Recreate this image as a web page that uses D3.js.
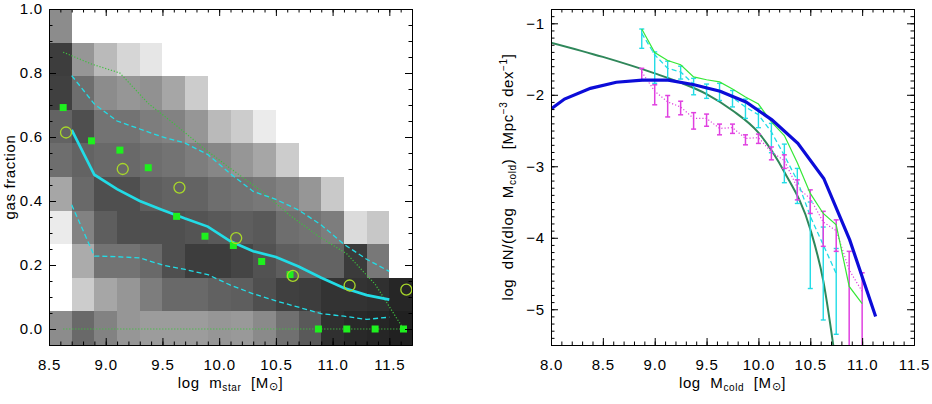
<!DOCTYPE html>
<html>
<head>
<meta charset="utf-8">
<script src="https://cdn.jsdelivr.net/npm/d3@7"></script>
<style>
    body { margin: 0; background: #fff; }
    svg { display: block; font-family: "Liberation Sans", Arial, sans-serif; }
</style>
</head>
<body>
<svg id="chart" width="932" height="404"></svg>
<script>
// ---- left panel: gas fraction vs stellar mass ----
const massBins = [8.5, 8.7, 8.9, 9.1, 9.3, 9.5, 9.7, 9.9, 10.1, 10.3, 10.5, 10.7, 10.9, 11.1, 11.3, 11.5, 11.7];
const fracBins = [-0.05, 0.055, 0.16, 0.265, 0.37, 0.475, 0.58, 0.685, 0.79, 0.895, 1.0];
// density of model galaxies per cell, bottom row first (0 = empty)
const fracDensity = [
    [0.45, 0.59, 0.49, 0.41, 0.39, 0.39, 0.39, 0.41, 0.40, 0.46, 0.56, 0.65, 0.81, 0.84, 0.85, 0.87],
    [0.00, 0.20, 0.35, 0.41, 0.51, 0.59, 0.59, 0.62, 0.63, 0.69, 0.75, 0.76, 0.80, 0.80, 0.81, 0.85],
    [0.00, 0.33, 0.55, 0.55, 0.59, 0.69, 0.76, 0.76, 0.73, 0.68, 0.63, 0.61, 0.61, 0.77, 0.53, 0.00],
    [0.08, 0.49, 0.63, 0.69, 0.69, 0.69, 0.67, 0.65, 0.63, 0.65, 0.57, 0.55, 0.51, 0.14, 0.22, 0.00],
    [0.35, 0.59, 0.69, 0.69, 0.63, 0.61, 0.61, 0.57, 0.55, 0.53, 0.49, 0.41, 0.21, 0.00, 0.00, 0.00],
    [0.57, 0.61, 0.59, 0.59, 0.57, 0.55, 0.51, 0.47, 0.41, 0.35, 0.20, 0.00, 0.00, 0.00, 0.00, 0.00],
    [0.61, 0.69, 0.55, 0.55, 0.51, 0.49, 0.41, 0.27, 0.20, 0.08, 0.00, 0.00, 0.00, 0.00, 0.00, 0.00],
    [0.75, 0.57, 0.45, 0.41, 0.43, 0.35, 0.20, 0.00, 0.00, 0.00, 0.00, 0.00, 0.00, 0.00, 0.00, 0.00],
    [0.76, 0.41, 0.27, 0.16, 0.10, 0.00, 0.00, 0.00, 0.00, 0.00, 0.00, 0.00, 0.00, 0.00, 0.00, 0.00],
    [0.45, 0.00, 0.00, 0.00, 0.00, 0.00, 0.00, 0.00, 0.00, 0.00, 0.00, 0.00, 0.00, 0.00, 0.00, 0.00]
];
const binMass = [8.7, 8.9, 9.1, 9.3, 9.5, 9.7, 9.9, 10.1, 10.3, 10.5, 10.7, 10.9, 11.1, 11.3, 11.5];
const medianFrac = [0.622, 0.482, 0.437, 0.400, 0.372, 0.345, 0.320, 0.274, 0.243, 0.225, 0.195, 0.160, 0.128, 0.106, 0.092];
const upperFrac = [0.792, 0.703, 0.650, 0.625, 0.600, 0.581, 0.545, 0.485, 0.430, 0.405, 0.372, 0.325, 0.265, 0.218, 0.180];
const lowerFrac = [0.388, 0.228, 0.226, 0.222, 0.200, 0.186, 0.170, 0.137, 0.110, 0.088, 0.068, 0.048, 0.040, 0.030, 0.037];

const obsMass = [8.625, 8.875, 9.125, 9.375, 9.625, 9.875, 10.125, 10.375, 10.625, 10.875, 11.125, 11.375, 11.625];
const obsFrac = [0.692, 0.588, 0.559, 0.504, 0.352, 0.290, 0.261, 0.211, 0.170, 0.0, 0.0, 0.0, 0.0];
const obsUpper = [0.865, 0.828, 0.800, 0.705, 0.635, 0.562, 0.495, 0.430, 0.355, 0.290, 0.235, 0.140, 0.0];
const obsLower = [0, 0, 0, 0, 0, 0, 0, 0, 0, 0, 0, 0, 0];
const circMass = [8.65, 9.15, 9.65, 10.15, 10.65, 11.15, 11.65];
const circFrac = [0.614, 0.500, 0.442, 0.284, 0.166, 0.136, 0.123];

// ---- right panel: cold gas mass function ----
const mfMass = [8.875, 9.0, 9.125, 9.25, 9.375, 9.5, 9.625, 9.75, 9.875, 10.0, 10.125, 10.25, 10.375, 10.5, 10.625, 10.75, 10.875, 11.0];
const greenPhi = [-1.08, -1.41, -1.52, -1.58, -1.75, -1.79, -1.82, -1.92, -2.03, -2.13, -2.38, -2.57, -2.95, -3.38, -3.66, -3.82, -4.68, -4.92];
const cyanPhi = [-1.14, -1.44, -1.63, -1.68, -1.85, -1.92, -1.93, -2.04, -2.17, -2.28, -2.52, -2.85, -3.20, -3.70, -4.10, -4.50];
const cyanHi = [-1.08, -1.40, -1.53, -1.60, -1.77, -1.85, -1.84, -1.94, -2.06, -2.19, -2.40, -2.69, -3.03, -3.50, -3.85, -4.15];
const cyanLo = [-1.35, -1.84, -1.80, -1.78, -2.00, -2.05, -2.08, -2.17, -2.33, -2.46, -2.81, -3.23, -3.52, -4.71, -5.15, -5.35];
const magPhi = [-1.68, -1.95, -2.10, -2.17, -2.33, -2.33, -2.47, -2.46, -2.61, -2.60, -2.80, -2.92, -3.30, -3.45, -3.78, -3.90, -4.45, -4.75];
const magHi = [-1.63, -1.86, -2.01, -2.09, -2.25, -2.27, -2.41, -2.41, -2.56, -2.55, -2.73, -2.84, -3.19, -3.33, -3.63, -3.75, -4.19, -4.49];
const magLo = [-1.80, -2.14, -2.31, -2.28, -2.48, -2.44, -2.56, -2.54, -2.70, -2.68, -2.91, -3.03, -3.47, -3.66, -4.12, -4.19, -5.60, -5.60];
const blueMass = [8.0, 8.13, 8.38, 8.63, 8.88, 9.13, 9.38, 9.63, 9.88, 10.13, 10.38, 10.63, 10.88, 11.13];
const bluePhi = [-2.20, -2.06, -1.91, -1.825, -1.795, -1.795, -1.86, -1.95, -2.10, -2.35, -2.68, -3.17, -4.03, -5.10];
const fitMass = [8.0, 8.5, 9.0, 9.25, 9.5, 9.75, 10.0, 10.25, 10.5, 10.625, 10.75];
const fitPhi = [-1.27, -1.47, -1.70, -1.83, -1.99, -2.22, -2.53, -3.08, -3.88, -4.60, -5.80];

const svg = d3.select('#chart');
const font = '"Liberation Sans", Arial, sans-serif';

const fracX = d3.scaleLinear().domain([8.5, 11.7]).range([49, 412]);
const fracY = d3.scaleLinear().domain([-0.05, 1.0]).range([345, 9]);
const mfX = d3.scaleLinear().domain([8.0, 11.5]).range([551, 914]);
const mfY = d3.scaleLinear().domain([-5.5, -0.8]).range([345, 9]);
const grey = d3.scaleLinear().domain([0, 1]).range(['#ffffff', '#000000']);

function clipFor(id, x, y) {
    svg.append('clipPath').attr('id', id).append('rect')
        .attr('x', x.range()[0]).attr('y', y.range()[1])
        .attr('width', x.range()[1] - x.range()[0])
        .attr('height', y.range()[0] - y.range()[1]);
    return svg.append('g').attr('clip-path', `url(#${id})`);
}

function frame(x, y, xMajor, xMinor, yMajor, yMinor, xFmt, yFmt) {
    const [left, right] = x.range();
    const [bottom, top] = y.range();
    const g = svg.append('g');
    const add = (axis, tx, ty) => g.append('g').attr('transform', `translate(${tx},${ty})`).call(axis);
    add(d3.axisBottom(x).tickValues(xMinor).tickSize(-3.5).tickSizeOuter(0).tickFormat(''), 0, bottom);
    add(d3.axisTop(x).tickValues(xMinor).tickSize(-3.5).tickSizeOuter(0).tickFormat(''), 0, top);
    add(d3.axisLeft(y).tickValues(yMinor).tickSize(-3.5).tickSizeOuter(0).tickFormat(''), left, 0);
    add(d3.axisRight(y).tickValues(yMinor).tickSize(-3.5).tickSizeOuter(0).tickFormat(''), right, 0);
    add(d3.axisBottom(x).tickValues(xMajor).tickSize(-7).tickSizeOuter(0).tickPadding(14).tickFormat(xFmt), 0, bottom);
    add(d3.axisTop(x).tickValues(xMajor).tickSize(-7).tickSizeOuter(0).tickFormat(''), 0, top);
    add(d3.axisLeft(y).tickValues(yMajor).tickSize(-7).tickSizeOuter(0).tickPadding(6).tickFormat(yFmt), left, 0);
    add(d3.axisRight(y).tickValues(yMajor).tickSize(-7).tickSizeOuter(0).tickFormat(''), right, 0);
    g.selectAll('g').attr('font-size', null).attr('font-family', null);
    g.selectAll('text').attr('font-size', 15).attr('font-family', font).attr('letter-spacing', 0.8).attr('fill', '#000');
    g.selectAll('path, line').attr('stroke', '#000').attr('stroke-width', 1);
}

function errorBars(g, mass, hi, lo, x, y, colour, width) {
    const bars = g.append('g').attr('stroke', colour).attr('stroke-width', width);
    hi.forEach((h, i) => {
        const cx = x(mass[i]);
        bars.append('line').attr('x1', cx).attr('x2', cx).attr('y1', y(h)).attr('y2', y(lo[i]));
        bars.append('line').attr('x1', cx - 2.5).attr('x2', cx + 2.5).attr('y1', y(h)).attr('y2', y(h));
        bars.append('line').attr('x1', cx - 2.5).attr('x2', cx + 2.5).attr('y1', y(lo[i])).attr('y2', y(lo[i]));
    });
}

// ===== left panel =====
const lg = clipFor('clip-left', fracX, fracY);

fracDensity.forEach((row, i) => {
    row.forEach((d, j) => {
        if (d <= 0) return;
        lg.append('rect')
            .attr('x', fracX(massBins[j]))
            .attr('y', fracY(fracBins[i + 1]))
            .attr('width', fracX(massBins[j + 1]) - fracX(massBins[j]))
            .attr('height', fracY(fracBins[i]) - fracY(fracBins[i + 1]))
            .attr('fill', grey(d))
            .attr('shape-rendering', 'crispEdges');
    });
});

const fracLine = d3.line().x(d => fracX(d[0])).y(d => fracY(d[1]));

[obsUpper, obsLower].forEach(vals => {
    lg.append('path').attr('d', fracLine(d3.zip(obsMass, vals)))
        .attr('fill', 'none').attr('stroke', '#3fbf3f').attr('stroke-width', 1.2)
        .attr('stroke-dasharray', '1.2,1.8');
});

[upperFrac, lowerFrac].forEach(vals => {
    lg.append('path').attr('d', fracLine(d3.zip(binMass, vals)))
        .attr('fill', 'none').attr('stroke', '#22dce6').attr('stroke-width', 1.3)
        .attr('stroke-dasharray', '5,3');
});
lg.append('path').attr('d', fracLine(d3.zip(binMass, medianFrac)))
    .attr('fill', 'none').attr('stroke', '#22dce6').attr('stroke-width', 2.7);

lg.append('g').selectAll('rect').data(d3.zip(obsMass, obsFrac)).enter().append('rect')
    .attr('x', d => fracX(d[0]) - 3.5).attr('y', d => fracY(d[1]) - 3.5)
    .attr('width', 7).attr('height', 7).attr('fill', '#1ef01e');

lg.append('g').selectAll('circle').data(d3.zip(circMass, circFrac)).enter().append('circle')
    .attr('cx', d => fracX(d[0])).attr('cy', d => fracY(d[1])).attr('r', 5.5)
    .attr('fill', 'none').attr('stroke', '#a8d82a').attr('stroke-width', 1.3);

frame(fracX, fracY,
    [8.5, 9.0, 9.5, 10.0, 10.5, 11.0, 11.5], d3.range(85, 118).map(v => v / 10),
    [0, 0.2, 0.4, 0.6, 0.8, 1.0], d3.range(-1, 21).map(v => v / 20),
    d3.format('.1f'), d3.format('.1f'));

svg.append('text')
    .attr('transform', 'translate(14.5,177) rotate(-90)')
    .attr('text-anchor', 'middle').attr('font-size', 15).attr('font-family', font)
    .attr('letter-spacing', 0.6)
    .text('gas fraction');

const lx = svg.append('text').attr('x', 230.5).attr('y', 388)
    .attr('text-anchor', 'middle').attr('font-size', 15).attr('font-family', font)
    .attr('letter-spacing', 0.6).style('white-space', 'pre');
lx.append('tspan').text('log  m');
lx.append('tspan').attr('font-size', 10).attr('dy', 3).text('star');
lx.append('tspan').attr('dy', -3).text('  [M');
lx.append('tspan').attr('font-size', 11).attr('dy', 2).text('⊙');
lx.append('tspan').attr('dy', -2).text(']');

// ===== right panel =====
const rg = clipFor('clip-right', mfX, mfY);
const mfLine = d3.line().x(d => mfX(d[0])).y(d => mfY(d[1]));

rg.append('path').attr('d', mfLine.curve(d3.curveMonotoneX)(d3.zip(fitMass, fitPhi)))
    .attr('fill', 'none').attr('stroke', '#2f875a').attr('stroke-width', 2);
mfLine.curve(d3.curveLinear);

rg.append('path').attr('d', mfLine(d3.zip(mfMass.slice(0, cyanPhi.length), cyanPhi)))
    .attr('fill', 'none').attr('stroke', '#22dce6').attr('stroke-width', 1.3)
    .attr('stroke-dasharray', '5,3');
errorBars(rg, mfMass, cyanHi, cyanLo, mfX, mfY, '#22dce6', 1.4);

rg.append('path').attr('d', mfLine(d3.zip(mfMass, magPhi)))
    .attr('fill', 'none').attr('stroke', '#e040e0').attr('stroke-width', 1.2)
    .attr('stroke-dasharray', '1.2,2');
errorBars(rg, mfMass, magHi, magLo, mfX, mfY, '#e040e0', 1.5);

rg.append('path').attr('d', mfLine(d3.zip(mfMass, greenPhi)))
    .attr('fill', 'none').attr('stroke', '#36e836').attr('stroke-width', 1.2);

rg.append('path').attr('d', mfLine(d3.zip(blueMass, bluePhi)))
    .attr('fill', 'none').attr('stroke', '#0c0cd8').attr('stroke-width', 3.2);

frame(mfX, mfY,
    [8.0, 8.5, 9.0, 9.5, 10.0, 10.5, 11.0, 11.5], d3.range(80, 116).map(v => v / 10),
    [-5, -4, -3, -2, -1], d3.range(-55, -7).map(v => v / 10),
    d3.format('.1f'), d3.format('d'));

const ry = svg.append('text')
    .attr('transform', 'translate(513,177) rotate(-90)')
    .attr('text-anchor', 'middle').attr('font-size', 15).attr('font-family', font)
    .attr('letter-spacing', 0.6).style('white-space', 'pre');
ry.append('tspan').text('log  dN/(dlog  M');
ry.append('tspan').attr('font-size', 10).attr('dy', 3).text('cold');
ry.append('tspan').attr('dy', -3).text(')  [Mpc');
ry.append('tspan').attr('font-size', 10).attr('dy', -6).text('−3');
ry.append('tspan').attr('dy', 6).text(' dex');
ry.append('tspan').attr('font-size', 10).attr('dy', -6).text('−1');
ry.append('tspan').attr('dy', 6).text(']');

const rx = svg.append('text').attr('x', 732.5).attr('y', 388)
    .attr('text-anchor', 'middle').attr('font-size', 15).attr('font-family', font)
    .attr('letter-spacing', 0.6).style('white-space', 'pre');
rx.append('tspan').text('log  M');
rx.append('tspan').attr('font-size', 10).attr('dy', 3).text('cold');
rx.append('tspan').attr('dy', -3).text('  [M');
rx.append('tspan').attr('font-size', 11).attr('dy', 2).text('⊙');
rx.append('tspan').attr('dy', -2).text(']');
</script>
</body>
</html>
